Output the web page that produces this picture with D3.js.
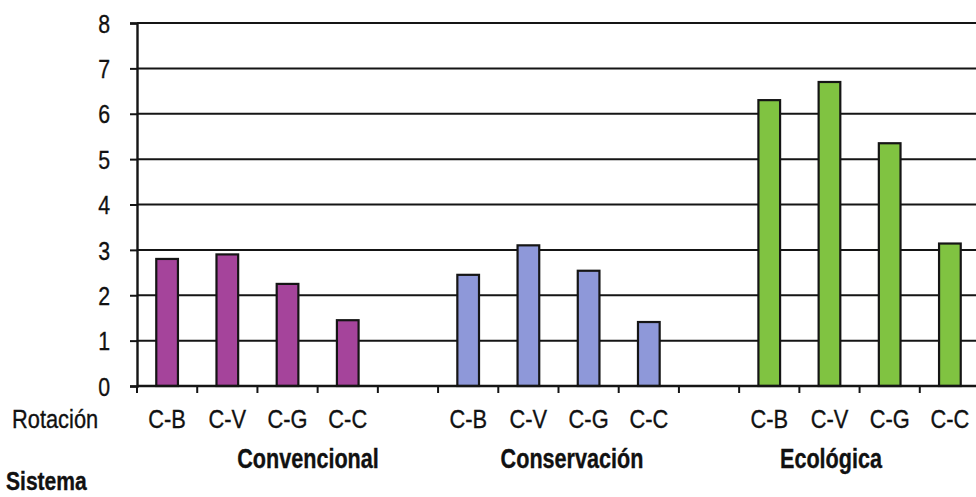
<!DOCTYPE html>
<html>
<head>
<meta charset="utf-8">
<script src="https://cdn.jsdelivr.net/npm/d3@7/dist/d3.min.js"></script>
<style>
  html, body { margin: 0; padding: 0; background: #ffffff; }
  svg text { font-family: "Liberation Sans", Arial, sans-serif; fill: #111; stroke: #111; stroke-width: 0.35px; }
</style>
</head>
<body>
<svg id="chart" width="976" height="497"></svg>
<script>
// Tillage systems and crop rotations
const systems = ["Convencional", "Conservación", "Ecológica"];
const rotations = ["C-B", "C-V", "C-G", "C-C"];
const convencional = [2.80, 2.90, 2.25, 1.45];
const conservacion = [2.45, 3.10, 2.54, 1.41];
const ecologica = [6.30, 6.70, 5.35, 3.14];
const yTicks = [0, 1, 2, 3, 4, 5, 6, 7, 8];

const seriesValues = [convencional, conservacion, ecologica];
const colors = ["#a5449b", "#8e98d9", "#80c341"];

// One slot per bar, plus an empty slot between systems
const slots = [];
systems.forEach((s, si) => {
  rotations.forEach((r, ri) => slots.push({ key: s + "|" + r, system: s, rot: r, value: seriesValues[si][ri], color: colors[si] }));
  if (si < systems.length - 1) slots.push({ key: "gap" + si, gap: true });
});

// Narrow lettering: squeeze text horizontally around its anchor point
function condense(sel, sx) {
  sel.each(function () {
    const t = d3.select(this);
    const px = +t.attr("x") || 0, py = +t.attr("y") || 0;
    t.attr("x", 0).attr("y", 0).attr("transform", `translate(${px},${py}) scale(${sx},1)`);
  });
}

const svg = d3.select("#chart");
const plotLeft = 137, plotTop = 23, plotBottom = 386, plotRight = 980;

const x = d3.scaleBand().domain(slots.map(d => d.key)).range([plotLeft, plotRight]).paddingInner(0).paddingOuter(0);
const y = d3.scaleLinear().domain([0, 8]).range([plotBottom, plotTop]);

// Horizontal gridlines
svg.append("g").selectAll("line").data(yTicks.filter(t => t > 0)).join("line")
  .attr("x1", plotLeft).attr("x2", plotRight)
  .attr("y1", d => y(d)).attr("y2", d => y(d))
  .attr("stroke", "#151515").attr("stroke-width", 2);

// Bars
const barW = x.bandwidth() * 0.36;
svg.append("g").selectAll("rect").data(slots.filter(d => !d.gap)).join("rect")
  .attr("x", d => x(d.key) + (x.bandwidth() - barW) / 2)
  .attr("y", d => y(d.value))
  .attr("width", barW)
  .attr("height", d => y(0) - y(d.value))
  .attr("fill", d => d.color)
  .attr("stroke", "#151515").attr("stroke-width", 2.2);

// Y axis
const yAxis = svg.append("g").attr("transform", `translate(${plotLeft},0)`)
  .call(d3.axisLeft(y).tickValues(yTicks).tickSize(7).tickPadding(20));
yAxis.select(".domain").attr("stroke", "#151515").attr("stroke-width", 2.4);
yAxis.selectAll(".tick line").attr("stroke", "#151515").attr("stroke-width", 2);
yAxis.selectAll(".tick text")
  .attr("font-size", 26).attr("font-family", null).attr("fill", "#111")
  .attr("dy", null).attr("y", 9.2)
  .call(condense, 0.82);

// X axis baseline with tick marks at slot boundaries
const bounds = slots.map(d => x(d.key));
svg.append("line").attr("x1", plotLeft).attr("x2", plotRight).attr("y1", y(0)).attr("y2", y(0))
  .attr("stroke", "#151515").attr("stroke-width", 2.4);
svg.append("g").selectAll("line").data(bounds).join("line")
  .attr("x1", d => d).attr("x2", d => d)
  .attr("y1", y(0)).attr("y2", y(0) + 7)
  .attr("stroke", "#151515").attr("stroke-width", 2);

// Rotation labels
svg.append("g").selectAll("text").data(slots.filter(d => !d.gap)).join("text")
  .attr("x", d => x(d.key) + x.bandwidth() / 2)
  .attr("y", 428)
  .attr("text-anchor", "middle")
  .attr("font-size", 26)
  .text(d => d.rot)
  .call(condense, 0.84);

svg.append("text").attr("x", 12).attr("y", 428).attr("font-size", 26).text("Rotación")
  .call(condense, 0.84);

// System labels
const sysX = [308, 572, 831];
svg.append("g").selectAll("text").data(systems).join("text")
  .attr("x", (d, i) => sysX[i])
  .attr("y", 468)
  .attr("text-anchor", "middle")
  .attr("font-size", 27)
  .attr("font-weight", "bold")
  .text(d => d)
  .call(condense, 0.80);

svg.append("text").attr("x", 6).attr("y", 490).attr("font-size", 26).attr("font-weight", "bold").text("Sistema")
  .call(condense, 0.81);
</script>
</body>
</html>
